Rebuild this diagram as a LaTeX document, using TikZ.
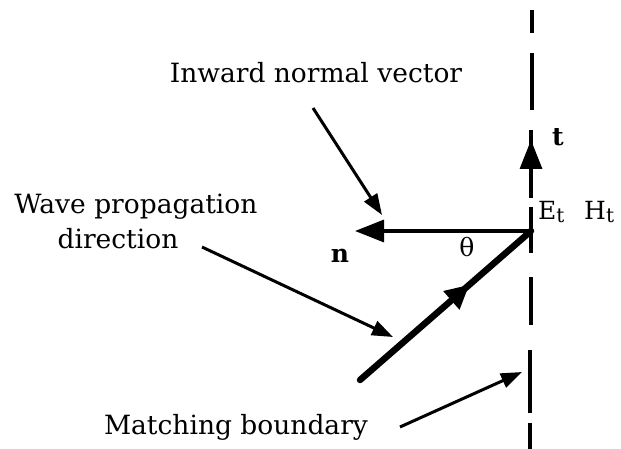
\documentclass[tikz,border=0pt]{standalone}
\usepackage{fontspec}
\setmainfont{DejaVu Serif}
\usetikzlibrary{arrows.meta,decorations.markings}
\newcommand{\mysub}[1]{\raisebox{-0.3ex}{\fontsize{20}{22}\selectfont #1}}
\begin{document}
\begin{tikzpicture}[x=1pt,y=-1pt,
  lbl/.style={inner sep=0pt,font=\fontsize{26.5}{30}\selectfont},
  sym/.style={inner sep=0pt,font=\fontsize{25}{30}\selectfont},
  pointer/.style={line width=3pt,-{Triangle[length=21pt,width=15pt]}},
  vec/.style={line width=3.2pt,-{Triangle[length=29pt,width=22pt]}},
  bnd/.style={line width=3.4pt},
  wave/.style={line width=6.5pt,line cap=round,postaction={decorate},
    decoration={markings,mark=at position 0.64 with {\arrow{Triangle[length=24pt,width=23pt]}}}}]
\useasboundingbox (0,0) rectangle (621,449);
% key points
\coordinate (O) at (531,231);
\coordinate (nTip) at (355,231);
\coordinate (tBase) at (531,198);
\coordinate (tTip) at (531,140);
\coordinate (wStart) at (360,380);
\coordinate (pIn) at (382,215);
\coordinate (pWave) at (393,337);
\coordinate (pBnd) at (522,372);
% matching boundary (dashed)
\draw[bnd] (532,10) -- (532,33);
\draw[bnd] (532,53) -- (532,110);
\draw[bnd] (531,130) -- (tBase);
\draw[bnd] (531,207) -- (531,253);
\draw[bnd] (531,277) -- (531,325);
\draw[bnd] (530,350) -- (530,413);
\draw[bnd] (530,423) -- (530,449);
% vectors
\draw[vec] (tBase) -- (tTip);
\draw[vec] (O) -- (nTip);
\draw[wave] (wStart) -- (O);
% labels
\node[lbl] (inward) at (316,73) {Inward normal vector};
\node[lbl] (wave1) at (136,207) {Wave propagation};
\node[lbl] (wave2) at (118,239) {direction};
\node[lbl] (match) at (236,427) {Matching boundary};
\node[sym] (n) at (340,256) {\textbf{n}};
\node[sym] (theta) at (467,247) {θ};
\node[sym] (t) at (558,137) {\textbf{t}};
\node[sym,anchor=west] (Et) at (538,212) {E\mysub{t}};
\node[sym,anchor=west] (Ht) at (584,212) {H\mysub{t}};
% pointers
\draw[pointer] (313,108) -- (pIn);
\draw[pointer] (202,247) -- (pWave);
\draw[pointer] (400,427) -- (pBnd);
\end{tikzpicture}
\end{document}
